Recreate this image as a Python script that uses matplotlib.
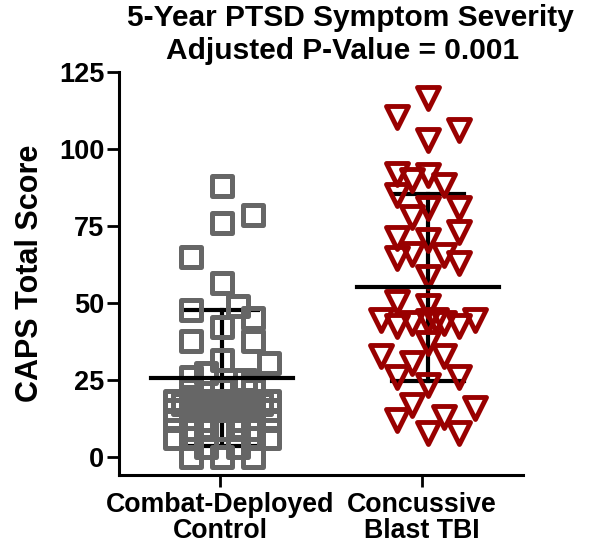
import matplotlib
matplotlib.use('Agg')
import matplotlib.pyplot as plt
from matplotlib.markers import MarkerStyle
import numpy as np

plt.rcParams['font.family'] = ['Liberation Sans', 'DejaVu Sans']
plt.rcParams['font.weight'] = 'bold'

# Dados
grupos = ['Combat-Deployed\nControl', 'Concussive\nBlast TBI']

ctrl_vals = [88, 78.5, 76, 65, 56.5, 47.7, 48.8, 45, 42, 37.4, 37.4, 31.5, 30.5,
             27, 25, 26, 24, 21.7, 21.7, 21.7,
             18, 18, 18, 18, 18, 18, 18,
             15, 15, 15, 15, 15, 15, 15,
             17, 17, 17, 17, 17, 17,
             12, 12, 12, 12,
             9, 9, 9, 9, 9,
             6, 6, 6, 6,
             3, 3,
             0, 0, 0]
ctrl_cols = [0, 2, 0, -2, 0, -2, 1, 2, 0, -2, 2, 0, 3,
             -1, 1.5, -2, 2, -2, 0, 2,
             -3, -2, -1, 0, 1, 2, 3,
             -3, -2, -1, 0, 1, 2, 3,
             -2.5, -1.5, -0.5, 0.5, 1.5, 2.5,
             -3, -1, 1, 3,
             -2, -1, 0, 1, 2,
             -3, -2, 2, 3,
             -1, 1,
             -2, 0, 2]

tbi_vals = [116.5, 110.5, 106, 103, 92, 90, 91.5, 88.3, 85, 80.7, 80.7, 78,
            71, 70.5, 73, 66, 64.5, 65.6, 63, 58.5, 50.4, 48.8,
            44.5, 42.3, 43.4, 44, 44.5, 43.4, 42.3, 44.5,
            36.9, 32.6, 30.4, 32.6, 26, 23.4, 26, 16.9, 15.8, 12, 13, 7.7, 7.7]
tbi_cols = [0, -2, 2, 0, -2, -1, 0, 1, -2, 0, 2, -1,
            -2, 0, 2, -1, -2, 1, 2, 0, -2, 0,
            -3, -2, -1, 0, 0.5, 1, 2, 3,
            0, -3, -1, 1, -2, 0, 2, -1, 3, -2, 1, 0, 2]

# media e desvio padrao
medias = [25.5, 55]
desvios = [22, 30.3]

cinza = '#666666'
vermelho = '#990000'
passo = 0.077
centros = [0.01, 1.03]

fig = plt.figure(figsize=(5.92, 5.55), dpi=100)
ax = fig.add_axes([0.201, 0.1441, 0.6824, 0.7262])

x_ctrl = centros[0] + np.array(ctrl_cols) * passo
x_tbi = centros[1] + np.array(tbi_cols) * passo

ax.plot(x_ctrl, ctrl_vals, linestyle='none',
        marker=MarkerStyle('s', joinstyle='round'), markersize=15,
        markerfacecolor='none', markeredgecolor=cinza, markeredgewidth=3.6, zorder=2)
ax.plot(x_tbi, tbi_vals, linestyle='none',
        marker=MarkerStyle('v', joinstyle='round'), markersize=16,
        markerfacecolor='none', markeredgecolor=vermelho, markeredgewidth=3.5, zorder=2)

# linhas de media (por cima) e barras de desvio (por baixo)
for c, m, s in zip(centros, medias, desvios):
    ax.plot([c - 0.35, c + 0.35], [m, m], color='black', lw=3, zorder=3)
    ax.plot([c, c], [m - s, m + s], color='black', lw=3, zorder=1)
    ax.plot([c - 0.18, c + 0.18], [m + s, m + s], color='black', lw=3, zorder=1)
    ax.plot([c - 0.18, c + 0.18], [m - s, m - s], color='black', lw=3, zorder=1)

ax.set_xlim(-0.5, 1.5)
ax.set_ylim(-6, 125)
ax.set_yticks([0, 25, 50, 75, 100, 125])
ax.spines['left'].set_bounds(-6, 125)
ax.set_xticks([0, 1])
ax.set_xticklabels(grupos, fontsize=19.3, fontweight='bold', linespacing=1.0)
ax.tick_params(axis='y', labelsize=19.5, width=2, length=8.5, pad=2)
ax.tick_params(axis='x', width=2, length=8.5, pad=4)
for lado in ['top', 'right']:
    ax.spines[lado].set_visible(False)
for lado in ['left', 'bottom']:
    ax.spines[lado].set_linewidth(2.2)

ax.set_ylabel('CAPS Total Score', fontsize=22, fontweight='bold', labelpad=10)
fig.text(350 / 592, 1 - 26 / 555, '5-Year PTSD Symptom Severity',
         ha='center', va='baseline', fontsize=21.5, fontweight='bold')
fig.text(343 / 592, 1 - 59 / 555, 'Adjusted P-Value = 0.001',
         ha='center', va='baseline', fontsize=21.5, fontweight='bold')

fig.savefig('out.png', dpi=100)
